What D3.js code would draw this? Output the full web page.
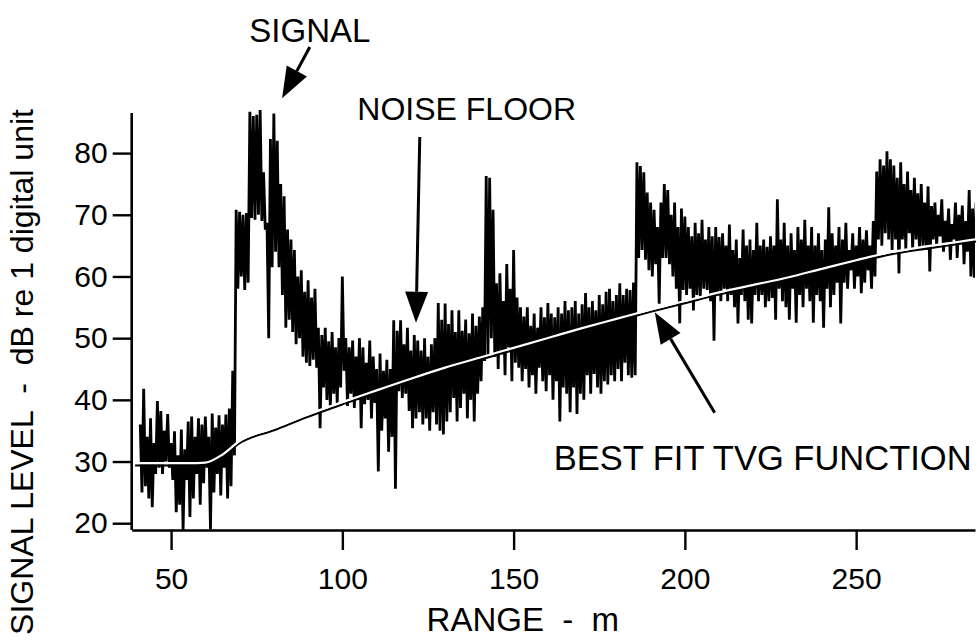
<!DOCTYPE html>
<html><head><meta charset="utf-8">
<script src="https://cdn.jsdelivr.net/npm/d3@7"></script>
<style>
body{margin:0;background:#fff}
svg{display:block}
text{font-family:"Liberation Sans",Arial,Helvetica,sans-serif;fill:#000;white-space:pre}
</style>
</head><body>
<svg id="c" width="980" height="641"></svg>
<script>
// sampling grid (metres), one high/low pair per metre
const rangeM = d3.range(41, 286);
const signalHigh = [
 36,41.8,34,37,33,39.8,38.2,35,37.7,33,
 34.9,31,35.2,32,36.5,37.3,34,37,36,37.3,
 34,37.8,35.5,37.5,36,37.6,38.6,44.7,70.8,70.5,
 70,70.3,86.7,86,86.2,87,76.9,68.7,82.3,86.4,
 82,75,73,67.6,66,64.3,60,61,57.5,59.4,
 56.6,58,51.7,50.5,51.7,49.5,51,48.5,50,60,
 50,48.5,49.6,47,50,48.5,46,49.6,47,45,
 47.5,44.7,46.5,45,52.9,51.2,52.9,49,51.7,48,
 50.5,49.6,48,50,47,49,50,55.7,53,55.6,
 52.3,54.5,51,54.5,51.2,53,50.8,54,52,53.5,
 55,76.3,76,70.8,58.9,60.5,56,62,58,64.3,
 56.6,55,53.5,55,52,54,51.7,55,53.4,55.7,
 54,53.4,55,54,56,54.5,55,56,54,55.5,
 57.3,55,56,54.5,57,55.5,57.5,58,56,57,
 58.9,57,58,57.8,59,78.5,77.9,76.9,73.6,72,
 70.8,68,72,75,74,70,72,68,71,69.7,
 68,66.5,68.7,67,69.2,66,68,66.5,68,66.4,
 67,65,68.4,64.3,66,63,67.6,65,66,64.3,
 68.7,65,66,64.8,66.5,65,72.5,66,68.7,65,
 67,64.3,68,66,69.2,65,68,65,67,64.3,
 66,71.2,67,65,68,66,68.7,64.3,67,65,
 68,66,67.5,65,69,77,79,78,80.3,79,
 78,76,78.5,75,77,74,76,73.5,75,72,
 74.6,71.4,72,70,72.5,69,71,68.5,72,70,
 71.5,69,74,71,72
];
const signalLow = [
 25,26,24,22.6,28,29,28,30,29,27,
 21.8,23,18.9,27,21,24,28,23,26.5,29,
 19,25,28,24.5,29,24,26,31,58,60,
 57.8,59,69.5,69.2,70,69,67.6,50,61.5,64,
 61.5,57,51.7,53,51,49,50,47,46,45.5,
 46.5,45.2,35.4,42,40,38.7,41,39.5,42,44.7,
 39,41,38.7,40,35.4,39.3,40,37,39.5,28.4,
 35,37,31.6,34,25.6,41.4,40.3,41,38.2,35.4,
 37,38,36,37,35,38,36,35,34.4,36.5,
 38,40.3,36.5,38.7,41,37,40,36.5,41,43,
 46.3,47,50,47,45,47.5,44,48.5,43,46,
 45.2,43,45,42,44,41,45.2,43,41.4,44,
 40,43,36.5,42,41,38,42,37.7,41,40,
 44,41,44.2,42,41,43,42.5,44,43,45,
 43,46,44,43.6,44,63,64.3,62.7,61,60,
 62,55.6,63,63,62,60,58,52.4,57.8,57,
 58,54.5,57,56.5,58,57.8,56,49.6,57,56,
 58,56,57,55,52.4,57,56,53,52.4,57,
 56,57,55,56,56.5,53,58,56,55,53,
 58,52.5,57,55,58,56,52.5,57,56,51.7,
 58,55,57,59,52.4,59,58,61,58,60,
 57.3,59,61,58,60,66,65,67,66,64.3,
 66,60.5,66,64.3,67,64.3,66,64.3,65,64.3,
 60.8,66,65,66.5,64,65.5,62.7,66,63,65.5,
 62,64,60,59.8,65
];
const tvgRange = [39.5,45,50,55,60,65,70,80,90,100,110,120,130,140,150,160,170,180,190,200,210,220,230,240,250,260,270,280,285];
const tvgLevel = [29.6,29.6,29.6,29.6,29.7,31.0,33.2,35.3,37.5,39.5,41.4,43.3,45.1,46.7,48.3,49.9,51.5,53.0,54.5,55.9,57.3,58.5,59.7,61.1,62.5,63.8,64.7,65.5,65.9];
const xTicks = [50,100,150,200,250];
const yTicks = [20,30,40,50,60,70,80];

// annotation anchors in data units: [tailX, tailY, tipX, tipY]
const annotations = [
 {label:"SIGNAL", size:33, tx:90.5, ty:100, arrow:[90.5,97.2,82.4,88.9]},
 {label:"NOISE FLOOR", size:32, tx:136.3, ty:87.3, arrow:[122.6,82.6,121.5,52.5]},
 {label:"BEST FIT TVG FUNCTION", size:34.5, tx:222.7, ty:30.6, arrow:[208.7,37.9,191.2,54.2]}
];

const W = 980, H = 641;
const m = {left:131.7, right:5, top:113, bottom:111};
const svg = d3.select("#c");
const x = d3.scaleLinear().domain([38.5, 284.7]).range([m.left, W - m.right]);
const y = d3.scaleLinear().domain([18.9, 86.5]).range([H - m.bottom, m.top]);

svg.append("rect").attr("width",W).attr("height",H).attr("fill","#fff");

svg.append("clipPath").attr("id","clip").append("rect")
  .attr("x", m.left).attr("y", m.top-5).attr("width", W-m.left-m.right).attr("height", H-m.bottom-m.top+5);

// signal trace
const pts = rangeM.flatMap((r,i)=>[[r, signalHigh[i]],[r+0.5, signalLow[i]]]);
svg.append("path").datum(pts)
  .attr("clip-path","url(#clip)")
  .attr("fill","none").attr("stroke","#000").attr("stroke-width",2.8)
  .attr("stroke-linejoin","miter").attr("stroke-miterlimit",2)
  .attr("d", d3.line().x(d=>x(d[0])).y(d=>y(d[1])));

// TVG fit: dark line with a white core riding on top of it
const tvg = tvgRange.map((r,i)=>[r,tvgLevel[i]]);
const tvgLine = d3.line().curve(d3.curveMonotoneX).x(d=>x(d[0])).y(d=>y(d[1]));
svg.append("path").datum(tvg).attr("transform","translate(0,1.4)")
  .attr("fill","none").attr("stroke","#000").attr("stroke-width",2.2).attr("d",tvgLine);
svg.append("path").datum(tvg).attr("transform","translate(0,-0.8)")
  .attr("fill","none").attr("stroke","#fff").attr("stroke-width",2.2).attr("d",tvgLine);

// axes
const xAxis = svg.append("g").attr("transform",`translate(0,${H-m.bottom})`)
  .call(d3.axisBottom(x).tickValues(xTicks).tickSize(20).tickPadding(18).tickSizeOuter(0));
const yAxis = svg.append("g").attr("transform",`translate(${m.left},0)`)
  .call(d3.axisLeft(y).tickValues(yTicks).tickSize(19).tickPadding(5).tickSizeOuter(0));
[xAxis,yAxis].forEach(g=>{
  g.select(".domain").attr("stroke","#000").attr("stroke-width",2.6);
  g.selectAll(".tick line").attr("stroke","#000").attr("stroke-width",2.4);
  g.selectAll(".tick text").attr("font-size",30).attr("fill","#000")
    .attr("font-family","'Liberation Sans',Arial,sans-serif");
});
yAxis.select(".domain").attr("d", `M0,${y(86.5)}V${H-m.bottom}`);

// axis titles
svg.append("text").attr("x", x(152.7)).attr("y", 631)
  .attr("text-anchor","middle").attr("font-size",33).text("RANGE  -  m");
svg.append("text").attr("transform",`translate(33,${372}) rotate(-90)`)
  .attr("text-anchor","middle").attr("font-size",32).text("SIGNAL LEVEL  -  dB re 1 digital unit");

// annotations
annotations.forEach(a=>{
  svg.append("text").attr("x", x(a.tx)).attr("y", y(a.ty)).attr("dy","0.36em")
    .attr("text-anchor","middle").attr("font-size",a.size).text(a.label);
  const [x1,y1,x2,y2] = [x(a.arrow[0]),y(a.arrow[1]),x(a.arrow[2]),y(a.arrow[3])];
  const ang = Math.atan2(y2-y1, x2-x1), L = 31, hw = 11.5;
  const bx = x2 - L*Math.cos(ang), by = y2 - L*Math.sin(ang);
  svg.append("line").attr("x1",x1).attr("y1",y1).attr("x2",bx).attr("y2",by)
    .attr("stroke","#000").attr("stroke-width",3);
  const px = -Math.sin(ang), py = Math.cos(ang);
  svg.append("polygon").attr("fill","#000")
    .attr("points", [[x2,y2],[bx+px*hw,by+py*hw],[bx-px*hw,by-py*hw]].map(p=>p.join(",")).join(" "));
});
</script>
</body></html>
